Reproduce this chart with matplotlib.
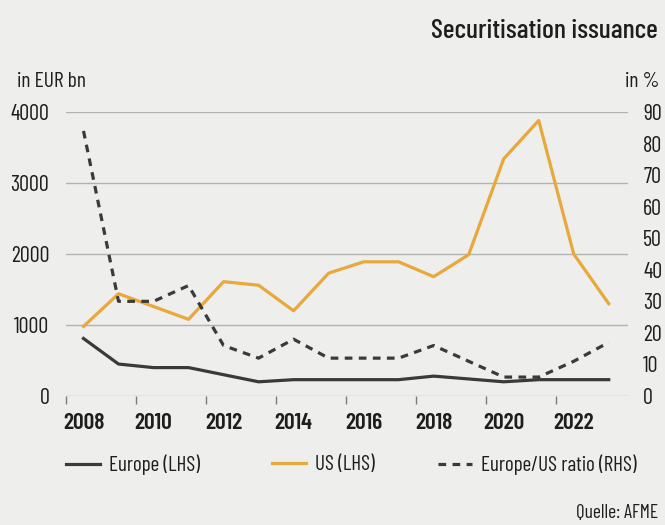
import matplotlib
matplotlib.use("Agg")
import matplotlib.pyplot as plt

# ---------------- data ----------------
years = list(range(2008, 2024))
europe = [810, 450, 400, 400, 300, 200, 230, 230, 230, 230, 280, 240, 200, 230, 230, 230]
us = [980, 1440, 1260, 1080, 1610, 1560, 1200, 1730, 1890, 1890, 1680, 1990, 3340, 3880, 2000, 1300]
ratio = [84, 30, 30, 35, 16, 12, 18, 12, 12, 12, 16, 11, 6, 6, 11, 17]
xtick_labels = [str(y) for y in range(2008, 2023, 2)]
left_ticks = [0, 1000, 2000, 3000, 4000]
right_ticks = list(range(0, 100, 10))
series_names = ["Europe (LHS)", "US (LHS)", "Europe/US ratio (RHS)"]

# ---------------- fonts ----------------
plt.rcParams['font.family'] = ['Barlow Condensed', 'Roboto Condensed', 'DejaVu Sans']

BG = '#eeeeec'
TXT = '#1e1e1e'
DARK = '#3a3a3a'
ORANGE = '#e8a83c'
GRID = '#b2b2b2'

W, H = 665, 525
fig = plt.figure(figsize=(W / 100, H / 100), dpi=100, facecolor=BG)
ax = fig.add_axes([66 / W, 1 - 396 / H, (628 - 66) / W, (396 - 112) / H])
ax.set_facecolor(BG)
ax2 = ax.twinx()

lw = 2.3
l1, = ax.plot(years, europe, color=DARK, lw=lw, zorder=3)
l2, = ax.plot(years, us, color=ORANGE, lw=lw, zorder=3)
l3, = ax2.plot(years, ratio, color=DARK, lw=lw, linestyle=(0, (2.4, 2.0)), zorder=3)

ax.set_xlim(2007.5, 2023.55)
ax.set_ylim(0, 4000)
ax2.set_ylim(0, 90)

ax.set_yticks(left_ticks)
ax.set_yticklabels([str(t) for t in left_ticks])
ax2.set_yticks(right_ticks)
ax2.set_yticklabels([str(t) for t in right_ticks])

ax.set_xticks(list(range(2008, 2023, 2)))
ax.set_xticklabels(xtick_labels, fontweight=600)
ax.set_xticks([y - 0.5 for y in range(2008, 2023, 2)], minor=True)

ax.grid(axis='y', color=GRID, lw=1.0)
ax.set_axisbelow(True)
for a in (ax, ax2):
    for s in a.spines.values():
        s.set_visible(False)

ax.tick_params(axis='y', length=0, pad=12, labelsize=16, labelcolor=TXT)
ax2.tick_params(axis='y', length=0, pad=11, labelsize=16, labelcolor=TXT)
ax.tick_params(axis='x', which='major', length=0, pad=12, labelsize=17, labelcolor=TXT)
ax.tick_params(axis='x', which='minor', length=6, width=1.0, color='#7a7a7a', direction='out')

# texts
fig.text(658 / W, 1 - 38.3 / H, "Securitisation issuance", ha='right', va='baseline',
         fontsize=20, fontweight=500, color=TXT)
fig.text(17 / W, 1 - 86.7 / H, "in EUR bn", ha='left', va='baseline', fontsize=15.5, color=TXT)
fig.text(659 / W, 1 - 87 / H, "in %", ha='right', va='baseline', fontsize=15.5, color=TXT)
fig.text(658 / W, 1 - 518 / H, "Quelle: AFME", ha='right', va='baseline', fontsize=14, color=TXT)

# legend (three separate entries at fixed positions)
fs = 15.2
fs_px = fs * 100 / 72
for line, name, x0 in zip((l1, l2, l3), series_names, (66, 272, 438)):
    fig.legend([line], [name], loc='center left',
               bbox_to_anchor=(x0 / W, 1 - 465 / H), frameon=False,
               borderpad=0, borderaxespad=0, handlelength=34 / fs_px,
               handletextpad=9 / fs_px, fontsize=fs, labelcolor=TXT)

fig.savefig("out.png", dpi=100, facecolor=BG)
